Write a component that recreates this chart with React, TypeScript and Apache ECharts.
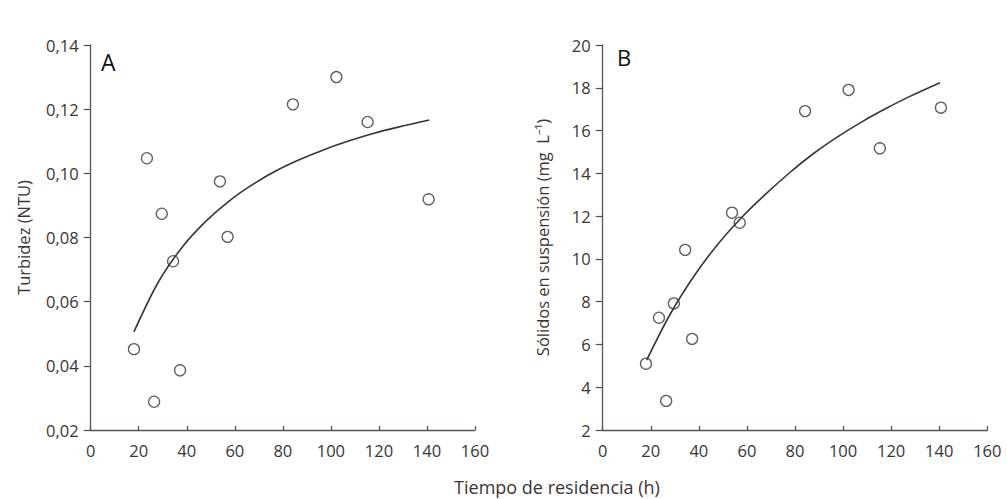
import React, { useEffect, useRef } from "react";
import * as echarts from "echarts";

// Residence time (h) for each sample
const residenceTime = [18, 23.4, 26.4, 29.6, 34.3, 37.2, 53.8, 57, 84.2, 102.3, 115.3, 140.7];
// Panel A: turbidity (NTU)
const turbidity = [0.0452, 0.1047, 0.0288, 0.0874, 0.0726, 0.0386, 0.0975, 0.0802, 0.1215, 0.130, 0.116, 0.0919];
// Panel B: suspended solids (mg/L)
const solids = [5.1, 7.25, 3.36, 7.92, 10.42, 6.26, 12.16, 11.69, 16.91, 17.9, 15.17, 17.07];

// Fitted curves
const fitAX = [18, 28, 38, 48, 58, 68, 78, 88, 98, 108, 118, 128, 141];
const fitAY = [0.0506, 0.0659, 0.0769, 0.0851, 0.0916, 0.0968, 0.1011, 0.1046, 0.1076, 0.1102, 0.1125, 0.1144, 0.1166];
const fitBX = [18.3, 28, 38, 48, 58, 68, 78, 88, 98, 108, 118, 128, 140.3];
const fitBY = [5.27, 7.4, 9.2, 10.7, 11.96, 13.05, 14.05, 14.95, 15.73, 16.42, 17.04, 17.61, 18.24];

const xTicks = { min: 0, max: 160, interval: 20 };
const yTicksA = { min: 0.02, max: 0.14, interval: 0.02 };
const yTicksB = { min: 2, max: 20, interval: 2 };

const FONT = "'Open Sans', 'Noto Sans', sans-serif";
const INK = "#3a3533";
const AXIS = "#5b4f4c";

export default function App() {
  const ref = useRef<HTMLDivElement>(null);
  useEffect(() => {
    if (!ref.current) return;
    const chart = echarts.init(ref.current, null, { renderer: "svg" });
    const pair = (xs: number[], ys: number[]) => xs.map((x, i) => [x, ys[i]]);
    const xAxisBase = (gridIndex: number) => ({
      type: "value",
      gridIndex,
      min: xTicks.min,
      max: xTicks.max,
      interval: xTicks.interval,
      axisLine: { show: true, onZero: false, lineStyle: { color: AXIS, width: 1.3 } },
      axisTick: { show: true, inside: true, length: 4, lineStyle: { color: AXIS, width: 1.2 } },
      axisLabel: { color: INK, fontSize: 16.5, fontFamily: FONT, margin: 12 },
      splitLine: { show: false },
    });
    const yAxisBase = (gridIndex: number, t: any, name: string, gap: number, fmt: (v: number) => string) => ({
      type: "value",
      gridIndex,
      min: t.min,
      max: t.max,
      interval: t.interval,
      name,
      nameLocation: "middle",
      nameGap: gap,
      nameTextStyle: { color: INK, fontSize: 16.5, fontFamily: FONT },
      axisLine: { show: true, onZero: false, lineStyle: { color: AXIS, width: 1.3 } },
      axisTick: { show: true, inside: false, length: 7, lineStyle: { color: AXIS, width: 1.2 } },
      axisLabel: { color: INK, fontSize: 16.5, fontFamily: FONT, margin: 12, formatter: fmt },
      splitLine: { show: false },
    });
    const scatterStyle = {
      symbol: "circle",
      symbolSize: 11,
      itemStyle: { color: "rgba(255,255,255,0)", borderColor: INK, borderWidth: 1.3 },
    };
    const fitLine = (i: number, xs: number[], ys: number[]) => ({
      type: "line",
      xAxisIndex: i,
      yAxisIndex: i,
      data: pair(xs, ys),
      smooth: 0.3,
      showSymbol: false,
      lineStyle: { color: INK, width: 1.6 },
    });
    chart.setOption({
      animation: false,
      backgroundColor: "#ffffff",
      grid: [
        { left: 90.7, top: 45, width: 384.3, height: 385 },
        { left: 602.7, top: 45, width: 384.6, height: 385 },
      ],
      xAxis: [xAxisBase(0), xAxisBase(1)],
      yAxis: [
        yAxisBase(0, yTicksA, "Turbidez (NTU)", 59, (v: number) => v.toFixed(2).replace(".", ",")),
        yAxisBase(1, yTicksB, "Sólidos en suspensión (mg  L⁻¹)", 52, (v: number) => String(Math.round(v))),
      ],
      series: [
        fitLine(0, fitAX, fitAY),
        fitLine(1, fitBX, fitBY),
        { type: "scatter", xAxisIndex: 0, yAxisIndex: 0, data: pair(residenceTime, turbidity), ...scatterStyle },
        { type: "scatter", xAxisIndex: 1, yAxisIndex: 1, data: pair(residenceTime, solids), ...scatterStyle },
      ],
      graphic: [
        {
          type: "text",
          left: 101,
          top: 50,
          style: { text: "A", fontSize: 23, fontFamily: FONT, fill: "#111" },
        },
        {
          type: "text",
          left: 617,
          top: 46,
          style: { text: "B", fontSize: 22, fontFamily: FONT, fill: "#111" },
        },
        {
          type: "text",
          x: 557,
          y: 487,
          style: {
            text: "Tiempo de residencia (h)",
            fontSize: 18,
            fontFamily: FONT,
            fill: INK,
            align: "center",
            verticalAlign: "middle",
          },
        },
      ],
    });
    return () => chart.dispose();
  }, []);
  return (
    <div
      ref={ref}
      style={{ position: "fixed", left: 0, top: 0, width: 1007, height: 499 }}
    />
  );
}
